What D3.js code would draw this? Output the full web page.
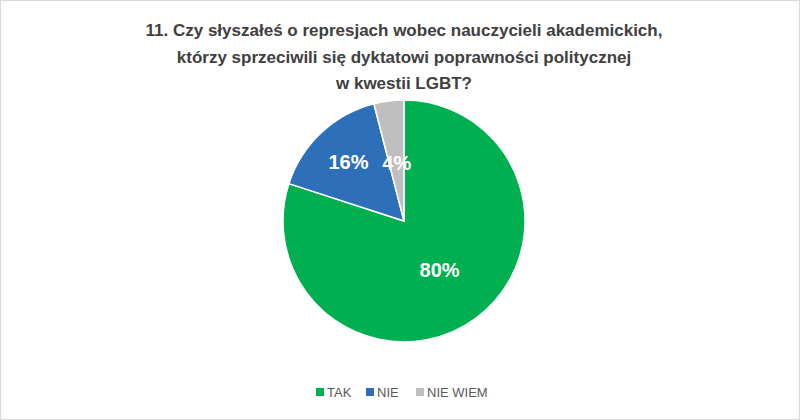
<!DOCTYPE html>
<html><head><meta charset="utf-8">
<script src="https://cdn.jsdelivr.net/npm/d3@7"></script>
<style>body{margin:0;background:#fff}</style></head>
<body><svg id="c" width="800" height="420"></svg>
<script>
const categories = ["TAK","NIE","NIE WIEM"];
const values = [80,16,4];
const colors = ["#00B050","#2E6FBA","#BFBFBF"];
const titleLines = ["11. Czy słyszałeś o represjach wobec nauczycieli akademickich,","którzy sprzeciwili się dyktatowi poprawności politycznej","w kwestii LGBT?"];

const svg = d3.select("#c");
const font = "Liberation Sans, Arial, sans-serif";
svg.append("rect").attr("x",0.5).attr("y",0.5).attr("width",799).attr("height",419).attr("fill","#fff").attr("stroke","#d9d9d9");
svg.append("g").selectAll("text").data(titleLines).join("text")
  .attr("x",404).attr("y",(d,i)=>36+i*26.5).attr("text-anchor","middle")
  .attr("font-family",font).attr("font-weight","bold").attr("font-size",17).attr("fill","#404040").text(d=>d);

const cx=404, cy=221, r=121;
const pie = d3.pie().sort(null).value(d=>d)(values);
const arc = d3.arc().innerRadius(0).outerRadius(r);
const g = svg.append("g").attr("transform",`translate(${cx},${cy})`);
g.selectAll("path").data(pie).join("path").attr("d",arc)
  .attr("fill",(d,i)=>colors[i]).attr("stroke","#fff").attr("stroke-width",1.5);
const labelFrac=[0.5,0.67,0.48];
g.selectAll("text").data(pie).join("text")
  .attr("transform",(d,i)=>{const c=d3.arc().innerRadius(r*labelFrac[i]).outerRadius(r*labelFrac[i]).centroid(d);return `translate(${c[0]},${c[1]})`;})
  .attr("text-anchor","middle").attr("dy","0.35em")
  .attr("font-family",font).attr("font-weight","bold").attr("font-size",20).attr("fill","#fff")
  .text((d,i)=>values[i]+"%");

const lx=[316,366,416];
const lg = svg.append("g").selectAll("g").data(categories).join("g")
  .attr("transform",(d,i)=>`translate(${lx[i]},392)`);
lg.append("rect").attr("x",0).attr("y",-4).attr("width",8).attr("height",8).attr("fill",(d,i)=>colors[i]);
lg.append("text").attr("x",11).attr("y",0).attr("dy","0.35em")
  .attr("font-family",font).attr("font-size",13).attr("fill","#595959").text(d=>d);
</script></body></html>
